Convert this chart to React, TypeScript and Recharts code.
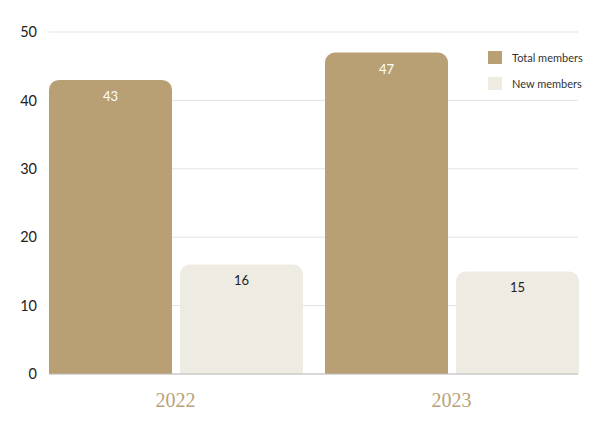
import React from "react";
import { BarChart, Bar, XAxis, YAxis, CartesianGrid, LabelList } from "recharts";

const years = ["2022", "2023"];
const totalMembers = [43, 47];
const newMembers = [16, 15];
const yTicks = [0, 10, 20, 30, 40, 50];
const legendLabels = ["Total members", "New members"];

const data = years.map((y, i) => ({ year: y, total: totalMembers[i], fresh: newMembers[i] }));

const GOLD = "#b8a074";
const CREAM = "#eeebe3";

const LegendBox = () => (
  <div
    style={{
      position: "absolute",
      left: 488,
      top: 44,
      fontFamily: "Lato, 'Noto Sans', sans-serif",
      fontSize: 11,
      color: "#333",
    }}
  >
    {[GOLD, CREAM].map((c, i) => (
      <div key={legendLabels[i]} style={{ display: "flex", alignItems: "center", height: 26 }}>
        <span style={{ display: "inline-block", width: 14, height: 13, background: c, marginRight: 10 }} />
        <span>{legendLabels[i]}</span>
      </div>
    ))}
  </div>
);

export default function App() {
  return (
    <div style={{ position: "absolute", left: 0, top: 0, width: 600, height: 424, background: "#fff" }}>
      <BarChart
        width={600}
        height={424}
        data={data}
        margin={{ top: 32, right: 22, bottom: 20, left: 0 }}
        barCategoryGap={11.5}
        barGap={8}
      >
        <CartesianGrid vertical={false} stroke="#e3e3e3" />
        <XAxis
          dataKey="year"
          height={30}
          padding={{ left: -11.5, right: -11.5 }}
          axisLine={{ stroke: "#bdbdbd" }}
          tickLine={false}
          tickMargin={13}
          tick={{ fill: "#b9a27a", fontSize: 20, fontFamily: "'Liberation Serif', serif" }}
        />
        <YAxis
          width={49}
          domain={[0, 50]}
          ticks={yTicks}
          axisLine={false}
          tickLine={false}
          tickMargin={6}
          tick={{ fill: "#222", fontSize: 14.5, fontFamily: "Lato, sans-serif" }}
        />
        <Bar dataKey="total" fill={GOLD} radius={[10, 10, 0, 0]} isAnimationActive={false}>
          <LabelList dataKey="total" position="insideTop" offset={12} fill="#fff" fontSize={13} fontFamily="Lato, sans-serif" />
        </Bar>
        <Bar dataKey="fresh" fill={CREAM} radius={[10, 10, 0, 0]} isAnimationActive={false}>
          <LabelList dataKey="fresh" position="insideTop" offset={11} fill="#222" fontSize={13} fontFamily="Lato, sans-serif" />
        </Bar>
      </BarChart>
      <LegendBox />
    </div>
  );
}
